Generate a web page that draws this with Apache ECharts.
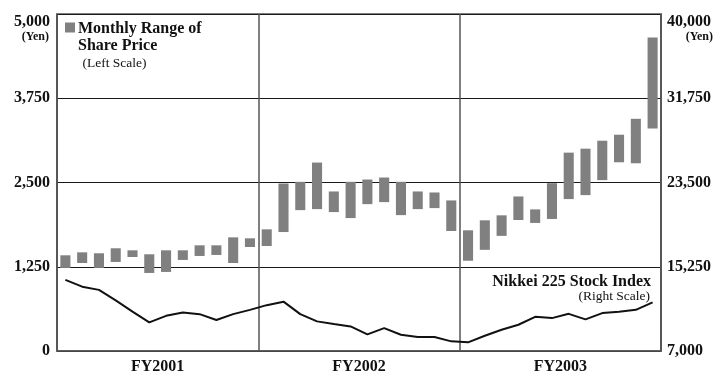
<!DOCTYPE html>
<html>
<head>
<meta charset="utf-8">
<style>
  html, body { margin: 0; padding: 0; background: #ffffff; }
  #chart { width: 715px; height: 375px; }
</style>
<script src="https://cdn.jsdelivr.net/npm/echarts@6/dist/echarts.min.js"></script>
</head>
<body>
<div id="chart"></div>
<script>
// Fiscal years and months (April to March)
const fiscalYears = ['FY2001', 'FY2002', 'FY2003'];
const months = [
  'Apr 01', 'May 01', 'Jun 01', 'Jul 01', 'Aug 01', 'Sep 01', 'Oct 01', 'Nov 01', 'Dec 01', 'Jan 02', 'Feb 02', 'Mar 02',
  'Apr 02', 'May 02', 'Jun 02', 'Jul 02', 'Aug 02', 'Sep 02', 'Oct 02', 'Nov 02', 'Dec 02', 'Jan 03', 'Feb 03', 'Mar 03',
  'Apr 03', 'May 03', 'Jun 03', 'Jul 03', 'Aug 03', 'Sep 03', 'Oct 03', 'Nov 03', 'Dec 03', 'Jan 04', 'Feb 04', 'Mar 04'
];

// Monthly share price range (yen), left scale
const priceHigh = [
  1420, 1464, 1450, 1524, 1494, 1435, 1494, 1494, 1568, 1568, 1686, 1672,
  1805, 2485, 2510, 2796, 2367, 2510, 2544, 2574, 2510, 2367, 2352, 2234,
  1791, 1939, 2013, 2293, 2101, 2490, 2943, 3002, 3120, 3209, 3445, 4650
];
const priceLow = [
  1232, 1306, 1232, 1321, 1395, 1158, 1173, 1351, 1410, 1425, 1306, 1543,
  1558, 1765, 2090, 2105, 2061, 1972, 2179, 2209, 2016, 2105, 2120, 1780,
  1339, 1501, 1708, 1944, 1900, 1959, 2254, 2313, 2535, 2800, 2785, 3302
];

// Nikkei 225 stock index (yen), right scale
const nikkei = [
  13960, 13300, 12985, 11950, 10860, 9800, 10445, 10780, 10610, 10030, 10610, 11030,
  11490, 11830, 10610, 9900, 9635, 9410, 8630, 9245, 8590, 8365, 8365, 7945,
  7850, 8495, 9080, 9570, 10350, 10220, 10640, 10095, 10710, 10840, 11030, 11755
];

// Tick labels
const leftTicks = [0, 1250, 2500, 3750, 5000];
const rightTicks = [7000, 15250, 23500, 31750, 40000];

const serif = '"Liberation Serif", "Times New Roman", serif';
const ink = '#111111';
const frame = '#555555';
const barGray = '#808080';
const fmt = v => Number(v).toLocaleString('en-US');

const chart = echarts.init(document.getElementById('chart'), null, { renderer: 'canvas' });

const rangeData = months.map((m, i) => [i, priceLow[i], priceHigh[i]]);

chart.setOption({
  animation: false,
  backgroundColor: '#ffffff',
  grid: {
    left: 57, right: 54, top: 14, bottom: 23,
    show: true, borderColor: frame, borderWidth: 1.5, backgroundColor: 'transparent'
  },
  xAxis: [
    {
      type: 'category', data: months, position: 'bottom', show: false,
      boundaryGap: true
    },
    {
      type: 'category', data: fiscalYears, position: 'bottom', boundaryGap: true,
      axisLine: { show: true, lineStyle: { color: frame, width: 1.5 } },
      axisTick: { show: false },
      splitLine: { show: true, lineStyle: { color: frame, width: 1.5 } },
      axisLabel: { fontFamily: serif, fontWeight: 'bold', fontSize: 16, color: ink, margin: 8 }
    }
  ],
  yAxis: [
    {
      type: 'value', position: 'left', min: leftTicks[0], max: leftTicks[leftTicks.length - 1], interval: 1250,
      axisLine: { show: true, lineStyle: { color: frame, width: 1.5 } },
      axisTick: { show: false },
      splitLine: { show: true, lineStyle: { color: '#1a1a1a', width: 1 } },
      axisLabel: {
        showMaxLabel: false,
        fontFamily: serif, fontWeight: 'bold', fontSize: 16, color: ink, margin: 7,
        formatter: v => fmt(v)
      }
    },
    {
      type: 'value', position: 'right', min: rightTicks[0], max: rightTicks[rightTicks.length - 1],
      axisLine: { show: true, lineStyle: { color: frame, width: 1.5 } },
      axisTick: { show: false },
      splitLine: { show: false },
      axisLabel: {
        customValues: rightTicks.slice(0, rightTicks.length - 1),
        fontFamily: serif, fontWeight: 'bold', fontSize: 16, color: ink, margin: 6,
        formatter: v => fmt(v)
      }
    }
  ],
  series: [
    {
      name: 'Monthly Range of Share Price',
      type: 'custom',
      xAxisIndex: 0, yAxisIndex: 0,
      data: rangeData,
      encode: { x: 0, y: [1, 2] },
      renderItem: function (params, api) {
        const i = api.value(0);
        const top = api.coord([i, api.value(2)]);
        const bottom = api.coord([i, api.value(1)]);
        const w = api.size([1, 0])[0] * 0.6;
        return {
          type: 'rect',
          shape: { x: top[0] - w / 2, y: top[1], width: w, height: bottom[1] - top[1] },
          style: { fill: barGray }
        };
      },
      z: 3
    },
    {
      name: 'Nikkei 225 Stock Index',
      type: 'line',
      xAxisIndex: 0, yAxisIndex: 1,
      data: nikkei,
      symbol: 'none',
      lineStyle: { color: ink, width: 2 },
      z: 4
    }
  ],
  graphic: [
    // top-of-scale labels with unit
    { type: 'text', right: 715 - 50, top: 14, style: { text: fmt(leftTicks[4]), font: 'bold 16px ' + serif, fill: ink } },
    { type: 'text', right: 715 - 49, top: 31, style: { text: '(Yen)', font: 'bold 12px ' + serif, fill: ink } },
    { type: 'text', left: 667, top: 14, style: { text: fmt(rightTicks[4]), font: 'bold 16px ' + serif, fill: ink } },
    { type: 'text', right: 2, top: 31, style: { text: '(Yen)', font: 'bold 12px ' + serif, fill: ink } },
    // share price key
    { type: 'rect', shape: { x: 65, y: 22.5, width: 10, height: 10 }, style: { fill: barGray } },
    { type: 'text', x: 78, y: 29, style: { text: 'Monthly Range of', font: 'bold 16px ' + serif, fill: ink, verticalAlign: 'middle' } },
    { type: 'text', x: 78, y: 45.5, style: { text: 'Share Price', font: 'bold 16px ' + serif, fill: ink, verticalAlign: 'middle' } },
    { type: 'text', x: 82.5, y: 63.5, style: { text: '(Left Scale)', font: '13.5px ' + serif, fill: ink, verticalAlign: 'middle' } },
    // index key
    { type: 'text', x: 651, y: 281.5, style: { text: 'Nikkei 225 Stock Index', font: 'bold 16px ' + serif, fill: ink, align: 'right', verticalAlign: 'middle' } },
    { type: 'text', x: 650, y: 296.5, style: { text: '(Right Scale)', font: '13.5px ' + serif, fill: ink, align: 'right', verticalAlign: 'middle' } }
  ]
});
</script>
</body>
</html>
